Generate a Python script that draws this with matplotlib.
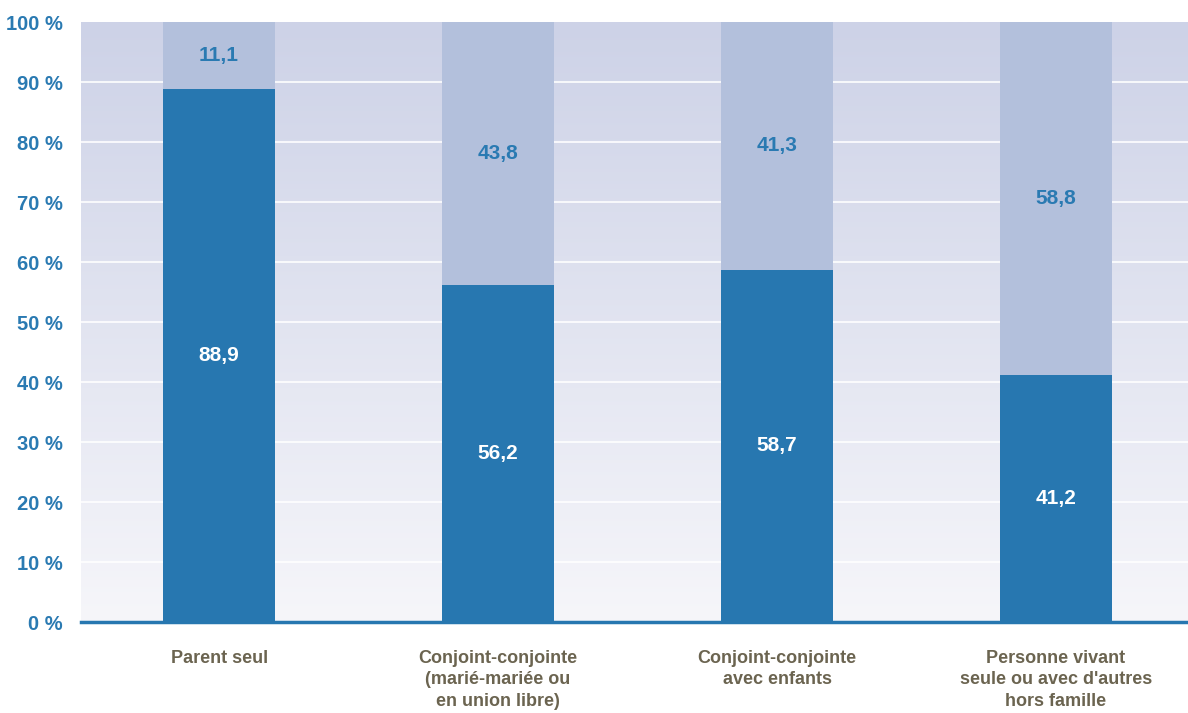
import matplotlib
matplotlib.use("Agg")
import matplotlib.pyplot as plt
import numpy as np
from matplotlib import font_manager as fm
from matplotlib.colors import LinearSegmentedColormap

categories = ["Parent seul",
              "Conjoint-conjointe\n(marié-mariée ou\nen union libre)",
              "Conjoint-conjointe\navec enfants",
              "Personne vivant\nseule ou avec d'autres\nhors famille"]
dark_values = [88.9, 56.2, 58.7, 41.2]
light_values = [11.1, 43.8, 41.3, 58.8]
yticks = [0, 10, 20, 30, 40, 50, 60, 70, 80, 90, 100]
ytick_labels = [f"{v} %" for v in yticks]

names = {f.name for f in fm.fontManager.ttflist}
fam = ["Liberation Sans Narrow", "DejaVu Sans"] if "Liberation Sans Narrow" in names else ["Liberation Sans", "DejaVu Sans"]
plt.rcParams['font.family'] = fam

DARK = "#2777b0"
LIGHT = "#b3c0dc"
BLUE_TXT = "#2a7ab2"
BROWN = "#6b6450"

fig = plt.figure(figsize=(11.88, 7.13), dpi=100)
ax = fig.add_axes([81/1188, 1 - 622/713, (1188-81)/1188, 600/713])

# gradient background
cmap = LinearSegmentedColormap.from_list("bg", ["#f6f6fa", "#cdd2e7"])
grad = np.linspace(0, 1, 256).reshape(-1, 1)
ax.imshow(grad, cmap=cmap, origin="lower", aspect="auto",
          extent=[0, 1, 0, 1], transform=ax.transAxes, zorder=0)

x = np.arange(len(categories))
w = 0.40
ax.set_xlim(-0.495, 3.473)
ax.set_ylim(0, 100)

for yv in yticks[1:-1]:
    ax.axhline(yv, color="white", lw=1.3, alpha=0.9, zorder=1)

ax.bar(x, dark_values, w, color=DARK, zorder=2)
ax.bar(x, light_values, w, bottom=dark_values, color=LIGHT, zorder=2)

for xi, d, l in zip(x, dark_values, light_values):
    ax.text(xi, d / 2, f"{d:.1f}".replace(".", ","), ha="center", va="center",
            color="white", fontsize=15, fontweight="bold", zorder=3)
    ax.text(xi, d + l / 2, f"{l:.1f}".replace(".", ","), ha="center", va="center",
            color=BLUE_TXT, fontsize=15, fontweight="bold", zorder=3)

ax.axhline(0, color=DARK, lw=2.5, zorder=4, clip_on=False)

for s in ax.spines.values():
    s.set_visible(False)

ax.set_yticks(yticks)
ax.set_yticklabels(ytick_labels, fontsize=14.5, fontweight="bold", color=BLUE_TXT)
ax.tick_params(axis="y", length=0, pad=13)
ax.set_xticks(x)
ax.set_xticklabels(categories, fontsize=13, fontweight="bold", color=BROWN,
                   linespacing=1.35, va="top")
ax.tick_params(axis="x", length=0, pad=20)

fig.savefig("out.png", dpi=100)
